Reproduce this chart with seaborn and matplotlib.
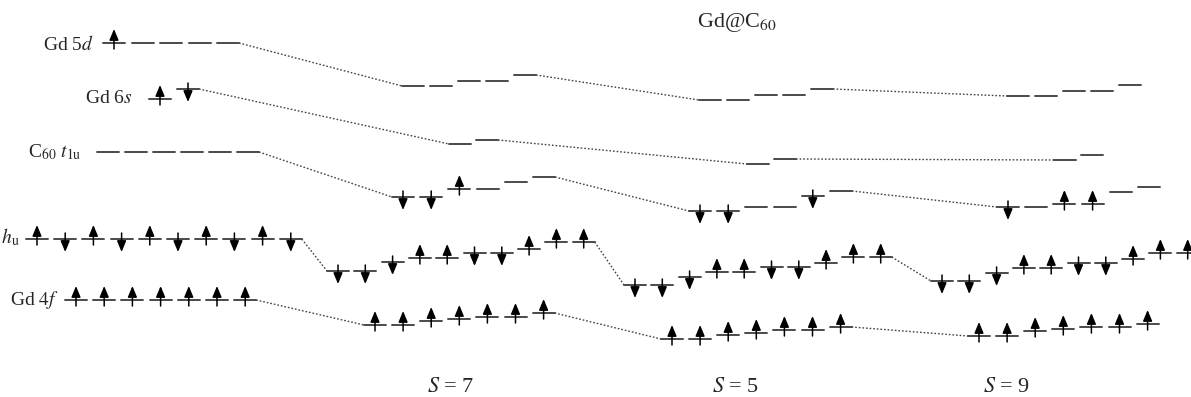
import pandas as pd
import matplotlib
matplotlib.use("Agg")
import matplotlib.pyplot as plt
import seaborn as sns

# Level heights (pixel depth from the top, bigger = lower energy)
# spin strings: u = up electron, d = down electron, - = empty
atom_5d = [43, 43, 43, 43, 43]
atom_5d_spin = "u----"
atom_6s = [99, 89]
atom_6s_spin = "ud"
atom_t1u = [152, 152, 152, 152, 152, 152]
atom_t1u_spin = "------"
atom_hu = [239, 239, 239, 239, 239, 239, 239, 239, 239, 239]
atom_hu_spin = "ududududud"
atom_4f = [300, 300, 300, 300, 300, 300, 300]
atom_4f_spin = "uuuuuuu"

s7_5d = [86, 86, 81, 81, 75]
s7_5d_spin = "-----"
s7_6s = [144, 140]
s7_6s_spin = "--"
s7_t1u = [197, 197, 189, 189, 182, 177]
s7_t1u_spin = "ddu---"
s7_hu = [271, 271, 262, 258, 258, 253, 253, 249, 242, 242]
s7_hu_spin = "ddduudduuu"
s7_4f = [325, 325, 321, 319, 317, 317, 313]
s7_4f_spin = "uuuuuuu"

s5_5d = [100, 100, 95, 95, 89]
s5_5d_spin = "-----"
s5_6s = [164, 159]
s5_6s_spin = "--"
s5_t1u = [211, 211, 207, 207, 196, 191]
s5_t1u_spin = "dd--d-"
s5_hu = [285, 285, 277, 272, 272, 267, 267, 263, 257, 257]
s5_hu_spin = "ddduudduuu"
s5_4f = [339, 339, 335, 333, 330, 330, 327]
s5_4f_spin = "uuuuuuu"

s9_5d = [96, 96, 91, 91, 85]
s9_5d_spin = "-----"
s9_6s = [160, 155]
s9_6s_spin = "--"
s9_t1u = [207, 207, 204, 204, 192, 187]
s9_t1u_spin = "d-uu--"
s9_hu = [281, 281, 273, 268, 268, 263, 263, 259, 253, 253]
s9_hu_spin = "ddduudduuu"
s9_4f = [336, 336, 331, 329, 327, 327, 324]
s9_4f_spin = "uuuuuuu"

orbitals = ["5d", "6s", "t1u", "hu", "4f"]
columns = ["atom", "S7", "S5", "S9"]
spin_states = ["S = 7", "S = 5", "S = 9"]

levels = {
    "atom": [atom_5d, atom_6s, atom_t1u, atom_hu, atom_4f],
    "S7": [s7_5d, s7_6s, s7_t1u, s7_hu, s7_4f],
    "S5": [s5_5d, s5_6s, s5_t1u, s5_hu, s5_4f],
    "S9": [s9_5d, s9_6s, s9_t1u, s9_hu, s9_4f],
}
spins = {
    "atom": [atom_5d_spin, atom_6s_spin, atom_t1u_spin, atom_hu_spin, atom_4f_spin],
    "S7": [s7_5d_spin, s7_6s_spin, s7_t1u_spin, s7_hu_spin, s7_4f_spin],
    "S5": [s5_5d_spin, s5_6s_spin, s5_t1u_spin, s5_hu_spin, s5_4f_spin],
    "S9": [s9_5d_spin, s9_6s_spin, s9_t1u_spin, s9_hu_spin, s9_4f_spin],
}

# layout: where each group of levels starts and how far apart the levels are
start_x = {
    "atom": [103, 149, 97, 26, 65],
    "S7": [402, 449, 392, 327, 364],
    "S5": [699, 747, 689, 624, 661],
    "S9": [1007, 1054, 997, 931, 968],
}
step_x = {"atom": [28.5, 28, 28, 28.2, 28.2]}
step_x["S7"] = step_x["S5"] = step_x["S9"] = [28, 27, 28.2, 27.3, 28.1]
level_w = 22

# building a table of level segments
rows = []
arrows = []
ends = {}
seg = 0
for col in columns:
    for k, orb in enumerate(orbitals):
        ys = levels[col][k]
        for i, y in enumerate(ys):
            x0 = start_x[col][k] + i * step_x[col][k]
            rows.append({"x": x0, "y": y, "seg": seg})
            rows.append({"x": x0 + level_w, "y": y, "seg": seg})
            seg += 1
            s = spins[col][k][i]
            if s != "-":
                arrows.append((x0 + level_w / 2, y, s))
        first_x = start_x[col][k]
        last_x = start_x[col][k] + (len(ys) - 1) * step_x[col][k] + level_w
        ends[(col, orb)] = ((first_x, ys[0]), (last_x, ys[-1]))
segments = pd.DataFrame(rows)

# dotted lines joining the same orbital between columns
links = []
link_id = 0
for k, orb in enumerate(orbitals):
    for a, b in zip(columns[:-1], columns[1:]):
        p = ends[(a, orb)][1]
        q = ends[(b, orb)][0]
        links.append({"x": p[0], "y": p[1], "link": link_id})
        links.append({"x": q[0], "y": q[1], "link": link_id})
        link_id += 1
links = pd.DataFrame(links)

sns.set_style("white")
plt.rcParams['font.family'] = ['Liberation Serif', 'DejaVu Serif']
plt.rcParams['mathtext.fontset'] = 'stix'

fig = plt.figure(figsize=(11.91, 3.97), dpi=100)
ax = fig.add_axes([0, 0, 1, 1])

sns.lineplot(data=links, x="x", y="y", units="link", estimator=None, sort=False,
             color="#444444", lw=1.0, linestyle=(0, (1.2, 1.4)), ax=ax)
sns.lineplot(data=segments, x="x", y="y", units="seg", estimator=None, sort=False,
             color="#4a4a4a", lw=1.4, ax=ax)

for x, y, s in arrows:
    if s == "u":
        tail, head = y + 6, y - 14
    else:
        tail, head = y - 6, y + 13
    ax.annotate("", xy=(x, head), xytext=(x, tail),
                arrowprops=dict(arrowstyle="-|>,head_length=0.6,head_width=0.25",
                                color="black", lw=1.1, shrinkA=0, shrinkB=0,
                                mutation_scale=11))

lab = 14
ax.text(43, 50, "Gd 5$d$", fontsize=lab, ha="left", va="baseline")
ax.text(85, 103, "Gd 6$s$", fontsize=lab, ha="left", va="baseline")
ax.text(28, 157, "C$_{60}$ $t_{1\\mathrm{u}}$", fontsize=lab, ha="left", va="baseline")
# this label runs off the left edge in the original figure as well
ax.text(20, 243, "C$_{60}$ $h_{\\mathrm{u}}$", fontsize=lab, ha="right", va="baseline")
ax.text(10, 305, "Gd $4f$", fontsize=lab, ha="left", va="baseline")
ax.text(697, 27, "Gd@C$_{60}$", fontsize=16, ha="left", va="baseline")

for name, xc in zip(spin_states, [451, 736, 1007]):
    ax.text(xc, 392, "$S$" + name[1:], fontsize=16, ha="center", va="baseline")

ax.set_xlim(0, 1191)
ax.set_ylim(397, 0)
ax.axis("off")

fig.savefig("out.png", dpi=100)
